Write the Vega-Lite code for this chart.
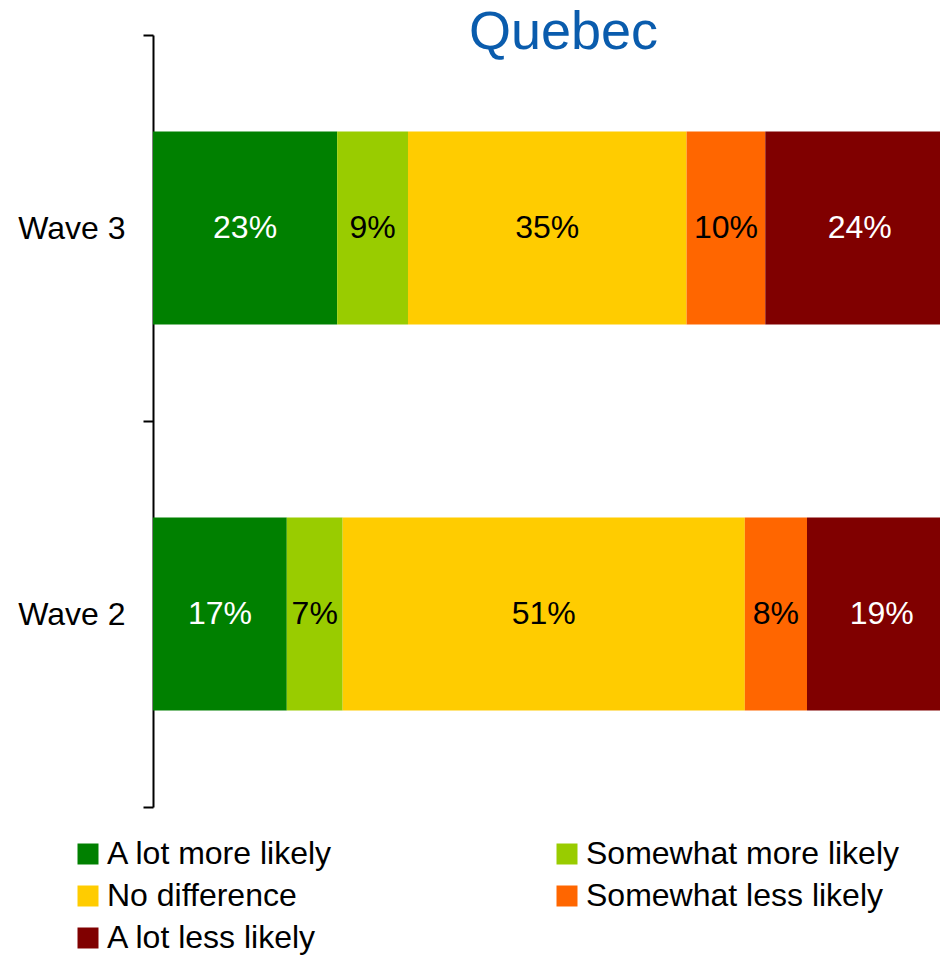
{
  "$schema": "https://vega.github.io/schema/vega-lite/v6.json",
  "width": 787,
  "height": 772,
  "autosize": {"type": "none"},
  "padding": {"left": 153, "top": 35, "right": 0, "bottom": 148},
  "background": "white",
  "config": {
    "view": {"stroke": null},
    "font": "Liberation Sans"
  },
  "title": {
    "text": "Quebec",
    "fontSize": 54,
    "font": "Liberation Sans",
    "fontWeight": "normal",
    "color": "#0A5CAD",
    "anchor": "middle",
    "dx": 17,
    "baseline": "bottom",
    "offset": -95
  },
  "data": {
    "values": [
      {"wave": "Wave 3", "category": "A lot more likely", "rank": 1, "value": 23.4},
      {"wave": "Wave 3", "category": "Somewhat more likely", "rank": 2, "value": 9.0},
      {"wave": "Wave 3", "category": "No difference", "rank": 3, "value": 35.4},
      {"wave": "Wave 3", "category": "Somewhat less likely", "rank": 4, "value": 10.0},
      {"wave": "Wave 3", "category": "A lot less likely", "rank": 5, "value": 24.0},
      {"wave": "Wave 2", "category": "A lot more likely", "rank": 1, "value": 17.0},
      {"wave": "Wave 2", "category": "Somewhat more likely", "rank": 2, "value": 7.1},
      {"wave": "Wave 2", "category": "No difference", "rank": 3, "value": 51.1},
      {"wave": "Wave 2", "category": "Somewhat less likely", "rank": 4, "value": 7.9},
      {"wave": "Wave 2", "category": "A lot less likely", "rank": 5, "value": 19.0}
    ]
  },
  "transform": [
    {"stack": "value", "groupby": ["wave"], "sort": [{"field": "rank", "order": "ascending"}], "as": ["v0", "v1"]},
    {"calculate": "(datum.v0 + datum.v1) / 2", "as": "mid"},
    {"calculate": "format(datum.value, '.0f') + '%'", "as": "label"}
  ],
  "encoding": {
    "y": {
      "field": "wave",
      "type": "nominal",
      "sort": ["Wave 3", "Wave 2"],
      "scale": {"paddingInner": 0, "paddingOuter": 0},
      "axis": {
        "title": null,
        "orient": "left",
        "tickBand": "extent",
        "labelFontSize": 32,
        "labelFont": "Liberation Sans",
        "labelColor": "black",
        "labelPadding": 18,
        "tickSize": 10,
        "tickWidth": 2,
        "tickColor": "black",
        "domainColor": "black",
        "domainWidth": 2
      }
    }
  },
  "layer": [
    {
      "mark": {"type": "bar", "height": {"band": 0.5}, "clip": true},
      "encoding": {
        "x": {"field": "v0", "type": "quantitative", "scale": {"domain": [0, 100], "nice": false, "zero": true}, "axis": null},
        "x2": {"field": "v1"},
        "color": {
          "field": "category",
          "type": "nominal",
          "scale": {
            "domain": ["A lot more likely", "Somewhat more likely", "No difference", "Somewhat less likely", "A lot less likely"],
            "range": ["#008000", "#99CC00", "#FFCC00", "#FF6600", "#800000"]
          },
          "legend": {
            "title": null,
            "orient": "none",
            "direction": "horizontal",
            "legendX": -81,
            "legendY": 803,
            "columns": 2,
            "columnPadding": 218,
            "rowPadding": 10,
            "padding": 0,
            "symbolType": "square",
            "symbolSize": 441,
            "symbolStrokeWidth": 0,
            "labelFontSize": 32,
            "labelFont": "Liberation Sans",
            "labelColor": "black",
            "labelLimit": 600,
            "labelOffset": 3
          }
        }
      }
    },
    {
      "mark": {"type": "text", "fontSize": 32, "font": "Liberation Sans", "align": "center", "baseline": "middle"},
      "encoding": {
        "x": {"field": "mid", "type": "quantitative", "scale": {"domain": [0, 100], "nice": false}},
        "text": {"field": "label"},
        "color": {
          "condition": {"test": "datum.category === 'A lot more likely' || datum.category === 'A lot less likely'", "value": "white"},
          "value": "black"
        }
      }
    }
  ]
}
